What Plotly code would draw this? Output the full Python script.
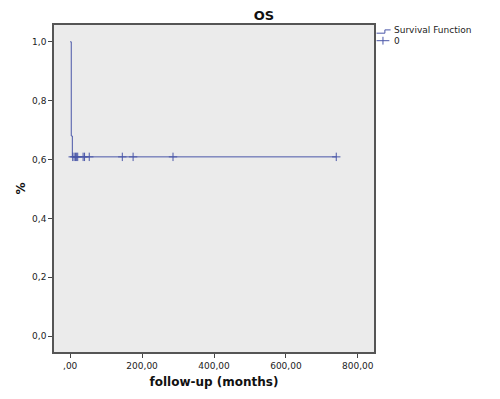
import plotly.graph_objects as go

# Kaplan-Meier step data (months, survival)
step_times = [0, 3, 6, 740]
step_surv = [1.0, 0.68, 0.609, 0.609]
# censored observations
censor_times = [7, 11, 15, 18, 21, 36, 40, 53, 145, 175, 286, 740]
censor_surv = [0.609] * len(censor_times)

x_tick_vals = [0, 200, 400, 600, 800]
x_tick_text = [",00", "200,00", "400,00", "600,00", "800,00"]
y_tick_vals = [0.0, 0.2, 0.4, 0.6, 0.8, 1.0]
y_tick_text = ["0,0", "0,2", "0,4", "0,6", "0,8", "1,0"]

line_color = "#4A57A8"
font = "DejaVu Sans"

fig = go.Figure()
fig.add_trace(go.Scatter(x=step_times, y=step_surv, mode="lines",
                         line=dict(color=line_color, width=1, shape="hv"),
                         showlegend=False))
fig.add_trace(go.Scatter(x=censor_times, y=censor_surv, mode="markers",
                         marker=dict(symbol="cross-thin-open", size=6, color=line_color,
                                     line=dict(color=line_color, width=1)),
                         showlegend=False))

# the page body has an 8px margin; size the figure to fill the rest of the window
fig.update_layout(
    width=492, height=391,
    margin=dict(l=42, r=126, t=17, b=46),
    paper_bgcolor="white",
    plot_bgcolor="#EBEBEB",
    font=dict(family=font, size=9, color="#222222"),
    title=dict(text="<b>OS</b>", x=0.52, xanchor="center", y=0.98, yanchor="middle",
               font=dict(size=13, family=font, color="#111111")),
    xaxis=dict(range=[-45, 845], tickvals=x_tick_vals, ticktext=x_tick_text,
               showgrid=False, zeroline=False, showline=True, mirror=True,
               linecolor="#555555", linewidth=1.5, ticks="outside", ticklen=4,
               tickcolor="#444444",
               title=dict(text="<b>follow-up (months)</b>", standoff=8,
                          font=dict(size=12, family=font, color="#111111"))),
    yaxis=dict(range=[-0.054, 1.057], tickvals=y_tick_vals, ticktext=y_tick_text,
               showgrid=False, zeroline=False, showline=True, mirror=True,
               linecolor="#555555", linewidth=1.5, ticks="outside", ticklen=4,
               tickcolor="#444444",
               title=dict(text="<b>%</b>", standoff=4,
                          font=dict(size=12, family=font, color="#111111"))),
)

# Legend drawn manually to mirror SPSS style
shapes = [
    # step icon for "Survival Function"
    dict(type="path", xref="paper", yref="paper",
         path="M 1.008 0.975 L 1.034 0.975 L 1.034 0.985 L 1.052 0.985",
         line=dict(color=line_color, width=1)),
    # cross icon for "0"
    dict(type="line", xref="paper", yref="paper", x0=1.008, x1=1.048, y0=0.952, y1=0.952,
         line=dict(color=line_color, width=1)),
    dict(type="line", xref="paper", yref="paper", x0=1.028, x1=1.028, y0=0.940, y1=0.964,
         line=dict(color=line_color, width=1)),
]
fig.update_layout(shapes=shapes)
fig.add_annotation(text="Survival Function", xref="paper", yref="paper", x=1.056, y=0.985,
                   xanchor="left", yanchor="middle", showarrow=False,
                   font=dict(size=9, family=font, color="#222222"))
fig.add_annotation(text="0", xref="paper", yref="paper", x=1.056, y=0.952,
                   xanchor="left", yanchor="middle", showarrow=False,
                   font=dict(size=9, family=font, color="#222222"))

fig.write_html("out.html")
